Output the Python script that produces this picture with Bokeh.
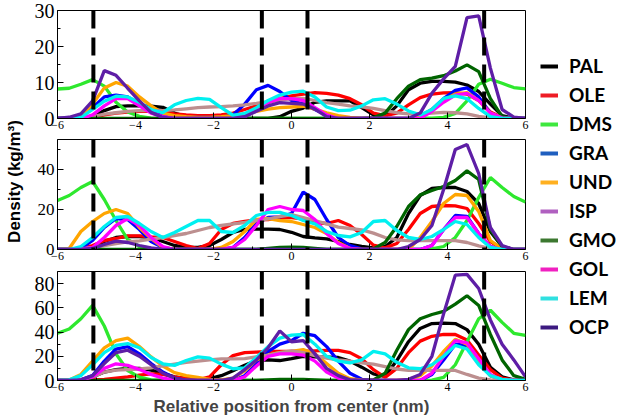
import numpy as np
from bokeh.plotting import figure
from bokeh.layouts import row, column
from bokeh.models import Range1d, Span, Label, Legend, LegendItem, FixedTicker
from bokeh.embed import file_html
from bokeh.resources import INLINE

# ---------------- data ----------------
X = [-6.0, -5.7, -5.4, -5.1, -4.8, -4.5, -4.2, -3.9, -3.6, -3.3, -3.0, -2.7, -2.4, -2.1,
     -1.8, -1.5, -1.2, -0.9, -0.6, -0.3, 0.0, 0.3, 0.6, 0.9, 1.2, 1.5, 1.8, 2.1, 2.4, 2.7,
     3.0, 3.3, 3.6, 3.9, 4.2, 4.5, 4.8, 5.1, 5.4, 5.7, 6.0]

NAMES = ["PAL", "OLE", "DMS", "GRA", "UND", "ISP", "GMO", "GOL", "LEM", "OCP"]

# panel 1 (top)
PAL_1 = [0,0,0,0.5,2.2,3.3,3.5,3.5,3.4,3.1,1.5,0.5,0,0,0,0,0,0,0,0.5,2.0,2.9,4.5,4.9,4.9,4.9,3.0,1.0,0.5,3.5,8.0,9.8,10.3,10.3,10.1,9.3,7.5,4.0,0.8,0,0]
OLE_1 = [0,0,0,0.3,1.0,1.5,1.8,2.0,2.0,1.8,1.3,1.0,0.8,0.8,1.0,1.5,2.5,3.5,4.5,5.5,6.3,6.8,7.2,7.0,6.5,5.5,3.8,1.5,0.8,1.5,3.8,5.8,6.8,7.1,7.2,6.8,5.0,1.8,0.3,0,0]
DMS_1 = [8.2,8.4,9.5,10.8,9.0,4.5,1.8,0.6,0.1,0,0,0,0,0,0,0,0,0,0,0,0,0,0,0,0,0,0,0,0,0,0,0.1,0.1,0.3,1.4,4.9,9.5,10.9,9.8,8.6,8.2]
GRA_1 = [0,0,0.5,3,6.0,6.5,6.0,4.0,2.0,0.8,0.3,0.3,0.3,0.3,0.3,1.0,4.0,8.0,9.2,7.5,5.0,4.0,2.5,1.0,0.3,0,0,0,0,0,0,0.5,2.5,5.5,7.8,8.5,6.0,1.5,0.2,0,0]
UND_1 = [0,0,0.5,4,8.5,10,9,6,3.5,1.5,0.8,0.5,0.3,0.3,0.5,0.8,1.2,2.0,2.6,3.0,3.2,3.4,2.6,1.6,0.8,0.3,0,0,0,0,0,0.5,2.5,5,6.8,7.2,5,1.5,0.2,0,0]
ISP_1 = [0,0,0.2,0.5,1.2,1.6,2.0,2.2,2.2,2.2,2.4,2.7,3.0,3.2,3.3,3.5,3.8,4.2,4.7,5.1,5.5,5.6,5.0,4.4,4.0,3.5,3.2,2.8,2.2,1.6,1.3,1.3,1.5,1.7,1.6,1.3,0.6,0.2,0,0,0]
GMO_1 = [0,0,0,0,0,0,0,0,0,0,0,0,0,0,0,0,0,0,0,0,0,0,0,0,0,0,0,0.2,1.5,5.5,9.0,10.8,11.2,11.9,13.2,14.9,13.0,5.5,0.5,0,0]
GOL_1 = [0,0,0,1,3.5,5.5,5.5,3.5,1.5,0.5,0,0,0,0,0,0,0.5,2.5,4.5,5.5,5.5,5,3,1,0,0,0,0,0,0,0,0,2,4.5,6.5,7,5,1.5,0.2,0,0]
LEM_1 = [0,0,0.3,2.5,4.8,6.2,6.0,4.5,2.5,1.6,3.8,5.0,5.6,5.3,3.0,0.9,1.4,3.0,5.0,6.5,7.3,7.6,6.0,3.2,2.2,2.3,3.5,5.2,5.5,4.0,2.1,1.0,2.5,5.6,6.3,5.5,2.8,0.5,0,0,0]
OCP_1 = [0,0.35,1.3,4.9,13.3,12.0,8.4,4.9,1.7,0.3,0,0,0,0,0,0,0.5,2,3.5,4.4,4.2,4.0,2.6,0.5,0,0,0,0,0,0,0,1.5,7,11,14.5,28,28.5,14,2.5,0.4,0]

# panel 2 (middle)
PAL_2 = [0,0,0,1,4,6,6.5,6.5,6,4,2,1,1,2,5,8.5,10,10.2,10.2,10,8.6,6.5,5.8,5.3,4,2.5,1.5,0.8,1.5,6,18,27,30.5,31,31,29,23,9,1.5,0,0]
OLE_2 = [0,0,0.5,2,4.5,5.5,6.8,6.8,6.3,6,4,2,0.5,3,10,13,14,14.8,15,16,16,15.3,13.5,13,14.5,12,7.5,2.2,0.8,3,10,18,21.5,22,21.8,20.5,13,4,0.3,0,0]
DMS_2 = [24.5,27,31,34,25,14.5,5,1.5,0.5,0,0,0,0,0,0,0,0,0,0,0,0,0,0,0,0,0,0,0,0,0,0,0,0.3,1.5,6,14.5,26,36,31,26.5,23.7]
GRA_2 = [0,0,0.5,4.5,11,15.5,15,10,4,1,0,0,0,0,0,1,6,13,16,16.3,18,28.7,25,15,6,2,0.3,0,0,0,0,0,2,10,17,16.5,8,1.5,0,0,0]
UND_2 = [0,0.5,9,14,18,20,18,11,5.5,1,0,0,0,0,1,4,9,15,15.5,14.5,14,12.5,11,8,3.5,0.5,0,0,0,0,0,6,14,23,27.5,27,19,4.5,0.3,0,0]
ISP_2 = [0,0,0.3,1,2,3,3.8,4.3,5.2,6,7,8,9.5,11,12,12.8,13.5,14.5,15.3,16.5,17.5,16,14.5,12.8,11.2,10.5,9.8,8.2,6,4.8,4.4,4.4,4.4,4.4,4.4,3.5,1.8,0.5,0,0,0]
GMO_2 = [0,0,0,0,0,0,0,0,0,0,0,0,0,0,0,0,0,0,0.5,1,1.2,1,0.5,0,0,0,0,0.3,3.5,11.5,21.5,27.3,29.5,31.5,34.5,39.3,35,10,1.5,0,0]
GOL_2 = [0,0,0,1,6,12,15.5,12,6,1.5,0,0,0,0,0,1,5,12,20,21.5,20,19.5,15,8,3,0.5,0,0,0,0,0,0,2,10,16,16,8,1.5,0,0,0]
LEM_2 = [0,0,1.5,6,11.5,16,16.5,13,9,6,8.5,11.5,14.5,14.5,9,8.5,12,17,18.6,18.6,17,14.5,12.8,9,7,6.3,8.5,14,14.5,9.5,6,5,6.5,10,14,12.5,6,1,0,0,0]
OCP_2 = [0,0,0,0.5,2.5,4.2,3.5,2,0.8,0,0,0,0,0,0,0,0,0,0,0,0,0,0,0,0,0,0,0,0,0,1.5,5,12,30,50,52.5,38,11,2,0,0]

# panel 3 (bottom)
PAL_3 = [0,0,0.5,3,7,9,10,10,8.5,6,3,1.5,1,1.5,4,8,12.5,16.5,17,16.5,18,20,19.5,19.3,19,16,11,5.5,3.5,16.5,32,43,47,47.4,47,42,30,11,3,0.5,0]
OLE_3 = [0,0,0,0.5,1,2,3,4.5,5.5,5,3,1.5,0.5,3,13,20.5,23,23.5,24,24,24,24,24.5,24.8,24.8,23,18,9,2.5,10,23,32.5,36.5,38,38,33.5,21,9,2,0.3,0]
DMS_3 = [39,42.5,51,62,45,22,8.3,2.8,0.5,0,0,0,0,0,0,0,0,0,0,0,0,0,0,0,0,0,0,0,0,0,0,0,0.3,2.5,13,32,51,58,48,39,37.2]
GRA_3 = [0,0,0.5,4,16,26,28,22,14,7,2,0,0,0,0,0,4,14,24,30,33,39,37,28,16,6,1,0,0,0,0,0,5,17,30,29,15,4,0.5,0,0]
UND_3 = [0,0.5,5,16,27,33,35,28,19.5,12,6.5,4,2.5,1,0.5,2,8,17,21,23,24,25.5,22,14,6,1.5,0.3,0,0,0,1,4,12,24,34,30,17,4,0.5,0,0]
ISP_3 = [0,0,0.5,3,7,8.5,9,9.5,10.5,12,13.5,15,16,17,17.9,17.9,18,19.5,21,23,24.5,23,20.5,18.5,17,16,14.5,13.5,11.5,9.5,8.3,8.3,8.3,8.3,8.3,5,2,0.5,0,0,0]
GMO_3 = [0,0,0,0,0,0,0,0,0,0,0,0,0,0,0,0,0,0,0.5,1,1,1,0.5,0,0,0,0,0.5,6,25,42,51,54.5,57,63,70,62,38,17,4,1]
GOL_3 = [0,0,0.5,3,10,13.8,12.5,9,5,2,0.5,0,0,0,0,0,3,12,20,22,22,21,16,7,2,0,0,0,0,0,0,0,6,20,33,31,18,5,0.5,0,0]
LEM_3 = [0,0.5,4,13,23,29,30.5,27,19,13.8,12.5,16.5,19.5,18.5,13.5,9.7,10.5,19,28,35,37.5,38,30,20,16,14.5,17,24,22,15,10.5,9.7,13,20,29,26,13,4,1,0,0]
OCP_3 = [0,0,0.5,4,14,23,25,20,13,6,2,0.3,0,0,0,2,9,17,27,41,32,33,22,10,4,0.5,0,0,0,0,1,5,20,55,87,87.6,76,50,30,17,3]

PANELS = [
    [PAL_1, OLE_1, DMS_1, GRA_1, UND_1, ISP_1, GMO_1, GOL_1, LEM_1, OCP_1],
    [PAL_2, OLE_2, DMS_2, GRA_2, UND_2, ISP_2, GMO_2, GOL_2, LEM_2, OCP_2],
    [PAL_3, OLE_3, DMS_3, GRA_3, UND_3, ISP_3, GMO_3, GOL_3, LEM_3, OCP_3],
]
for pan in PANELS:
    for s in pan:
        assert len(s) == len(X), len(s)

Y_MAX = [30, 55, 90]
Y_TICKS = [[0, 10, 20, 30], [0, 20, 40], [0, 20, 40, 60, 80]]
Y_MINOR = [[5, 15, 25], [10, 30, 50], [10, 30, 50, 70]]
X_TICKS = [-6, -4, -2, 0, 2, 4, 6]
X_MINOR = [-5, -3, -1, 1, 3, 5]
DASHED_X = [-5.08, -0.76, 0.41, 4.94]

LINE_COLORS = ["#000000", "#ff0000", "#2ee82e", "#0000ff", "#ffa500",
               "#bc8f8f", "#006400", "#ff00ff", "#00f0f0", "#5e1ea6"]
LEGEND_COLORS = ["#000000", "#ee1c25", "#3ee83e", "#1f5fbf", "#ffb020",
                 "#b060c0", "#3c7830", "#f020c0", "#30e0e0", "#3c1a80"]

# ---------------- layout sizes ----------------
TOTAL_H = 417
YLAB_W = 24
LEG_W = 89
FRAME_W = 468
FRAME_H = [108, 110, 109]
TOP_B = [10, 0, 0]
BOT_B = [21, 22, 37]
YLAB_SIZE = ["20px", "17px", "20px"]

panels = []
for i in range(3):
    p = figure(frame_width=FRAME_W, frame_height=FRAME_H[i],
               x_range=Range1d(-6, 6), y_range=Range1d(0, Y_MAX[i]),
               output_backend="svg", toolbar_location=None,
               min_border_left=33, min_border_right=8,
               min_border_top=TOP_B[i], min_border_bottom=BOT_B[i])
    p.xgrid.visible = False
    p.ygrid.visible = False
    p.outline_line_color = "black"
    p.outline_line_width = 1
    p.background_fill_color = "white"

    for data, c in zip(PANELS[i], LINE_COLORS):
        p.line(X, data, line_color=c, line_width=3.3)

    for xv in DASHED_X:
        p.add_layout(Span(location=xv, dimension="height", line_color="black",
                          line_width=4, line_dash="18 9"))

    p.xaxis.ticker = FixedTicker(ticks=X_TICKS, minor_ticks=X_MINOR)
    p.yaxis.ticker = FixedTicker(ticks=Y_TICKS[i], minor_ticks=Y_MINOR[i])
    for ax in (p.xaxis, p.yaxis):
        ax.major_tick_in = 6
        ax.major_tick_out = 0
        ax.minor_tick_in = 3
        ax.minor_tick_out = 0
        ax.axis_line_color = "black"
        ax.major_label_text_font = "Liberation Serif"
        ax.major_label_text_color = "black"
    p.xaxis.major_label_text_font_size = "12px"
    p.xaxis.major_label_standoff = 2
    p.yaxis.major_label_text_font_size = YLAB_SIZE[i]
    p.yaxis.major_label_standoff = 3
    if i == 2:
        p.xaxis.axis_label = "Relative position from center (nm)"
        p.xaxis.axis_label_text_font = "Liberation Sans"
        p.xaxis.axis_label_text_font_style = "bold"
        p.xaxis.axis_label_text_font_size = "17px"
        p.xaxis.axis_label_standoff = 3
    panels.append(p)

# y-axis title
py = figure(width=YLAB_W, height=TOTAL_H, x_range=Range1d(0, 1), y_range=Range1d(0, 1),
            output_backend="svg", toolbar_location=None,
            x_axis_location=None, y_axis_location=None, min_border=0)
py.xgrid.visible = False
py.ygrid.visible = False
py.outline_line_color = None
py.add_layout(Label(x=14, y=TOTAL_H - 181, x_units="screen", y_units="screen",
                    text="Density (kg/m³)", angle=np.pi / 2,
                    text_align="center", text_baseline="middle",
                    text_font="Liberation Sans", text_font_style="bold",
                    text_font_size="17px", text_color="black"))

# legend panel
pl = figure(width=LEG_W, height=TOTAL_H, x_range=Range1d(0, 1), y_range=Range1d(0, 1),
            output_backend="svg", toolbar_location=None,
            x_axis_location=None, y_axis_location=None, min_border=0)
pl.xgrid.visible = False
pl.ygrid.visible = False
pl.outline_line_color = None
items = []
for name, c in zip(NAMES, LEGEND_COLORS):
    # legend-only renderer: its data lies outside the (hidden) ranges
    r = pl.line(x=[5, 6], y=[5, 6], line_color=c, line_width=4)
    items.append(LegendItem(label=name, renderers=[r]))
leg = Legend(items=items, location=(7, 79), border_line_color=None,
             background_fill_alpha=0, margin=0, padding=0, spacing=6,
             glyph_width=18, glyph_height=20, label_height=20, label_standoff=11,
             label_text_font="Lato", label_text_font_style="bold",
             label_text_font_size="19px", label_text_color="black")
pl.add_layout(leg)

layout = row(py, column(*panels), pl)
open("out.html", "w").write(file_html(layout, INLINE))
